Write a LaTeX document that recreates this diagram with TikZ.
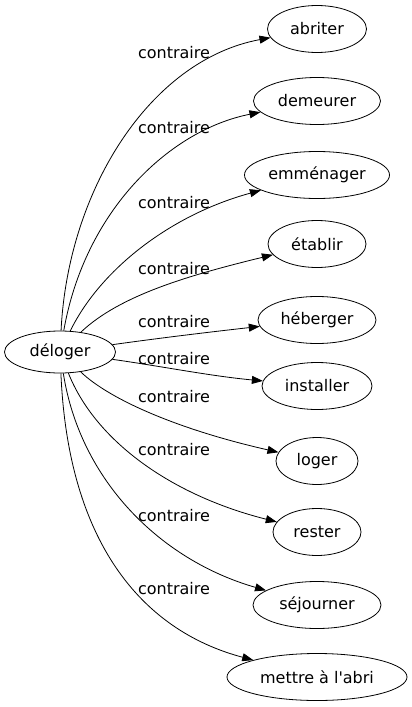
\documentclass[tikz,border=0pt]{standalone}
\usepackage{fontspec}
\setmainfont{DejaVu Sans}
\usetikzlibrary{arrows.meta,shapes.geometric}

\begin{document}
\begin{tikzpicture}[x=1pt, y=-1pt,
  word/.style={draw, ellipse, inner sep=0pt, minimum height=47pt, line width=0.8pt, font=\fontsize{16}{18}\selectfont},
  lab/.style={inner sep=0pt, font=\fontsize{16}{18}\selectfont},
  rel/.style={-{Triangle[length=11pt, width=8pt]}, line width=0.8pt}
]
\useasboundingbox (0,0) rectangle (412,707);
% source and target words
\node[word, minimum width=111pt, minimum height=42pt] (deloger) at (60,352) {déloger};
\node[word, minimum width=99pt] (abriter) at (317,29) {abriter};
\node[word, minimum width=127pt] (demeurer) at (317,101) {demeurer};
\node[word, minimum width=145pt] (emmenager) at (317,175) {emménager};
\node[word, minimum width=98pt] (etablir) at (317,244) {établir};
\node[word, minimum width=118pt] (heberger) at (317,320) {héberger};
\node[word, minimum width=110pt] (installer) at (317,386) {installer};
\node[word, minimum width=82pt] (loger) at (317,461) {loger};
\node[word, minimum width=88pt] (rester) at (317,532) {rester};
\node[word, minimum width=128pt] (sejourner) at (317,605) {séjourner};
\node[word, minimum width=180pt] (abri) at (317,677) {mettre à l\textquotesingle abri};
% edge labels
\node[lab] (l1) at (174,53) {contraire};
\node[lab] (l2) at (174,128) {contraire};
\node[lab] (l3) at (174,203) {contraire};
\node[lab] (l4) at (174,269) {contraire};
\node[lab] (l5) at (174,322) {contraire};
\node[lab] (l6) at (174,359) {contraire};
\node[lab] (l7) at (174,397) {contraire};
\node[lab] (l8) at (174,450) {contraire};
\node[lab] (l9) at (174,516) {contraire};
\node[lab] (l10) at (174,589) {contraire};
% relations
\draw[rel] (deloger) .. controls (68,190) and (150,60) .. (abriter);
\draw[rel] (deloger) .. controls (85,210) and (170,130) .. (demeurer);
\draw[rel] (deloger) .. controls (100,270) and (170,215) .. (emmenager);
\draw[rel] (deloger) .. controls (120,295) and (190,275) .. (etablir);
\draw[rel] (deloger) .. controls (160,338) and (210,332) .. (heberger);
\draw[rel] (deloger) .. controls (160,366) and (210,376) .. (installer);
\draw[rel] (deloger) .. controls (110,400) and (180,430) .. (loger);
\draw[rel] (deloger) .. controls (95,440) and (170,495) .. (rester);
\draw[rel] (deloger) .. controls (80,480) and (160,560) .. (sejourner);
\draw[rel] (deloger) .. controls (68,540) and (140,630) .. (abri);
\end{tikzpicture}
\end{document}
